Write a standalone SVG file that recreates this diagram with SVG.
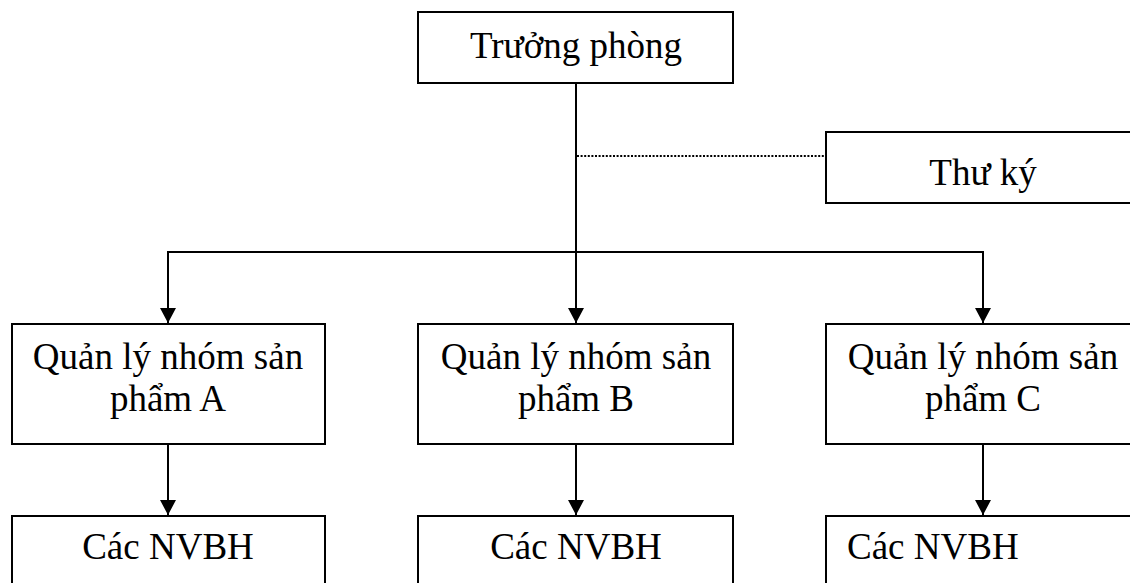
<svg xmlns="http://www.w3.org/2000/svg" width="1130" height="583" viewBox="0 0 1130 583">
  <style>
    .box { fill: #ffffff; stroke: #000000; stroke-width: 2; }
    .lbl { font-family: "Liberation Serif", "Times New Roman", serif; font-size: 37px; fill: #000000; text-anchor: middle; }
    .lbl.left { text-anchor: start; }
    .link { fill: none; stroke: #000000; stroke-width: 2; }
    .arrow { marker-end: url(#head); }
    .dotted { stroke-width: 2; stroke-dasharray: 2 1.6; }
  </style>
  <defs>
    <marker id="head" viewBox="0 0 15 16" refX="15" refY="8" markerWidth="15" markerHeight="16" markerUnits="userSpaceOnUse" orient="auto">
      <path d="M0,0 L15,8 L0,16 Z" fill="#000000"/>
    </marker>
  </defs>
  <rect width="1130" height="583" fill="#ffffff"/>

  <g id="connectors">
    <!-- manager down to group B, with branch bar -->
    <line class="link arrow" x1="576" y1="83" x2="576" y2="323"/>
    <polyline class="link" points="168,322 168,252 983,252 983,322"/>
    <line class="link arrow" x1="168" y1="252" x2="168" y2="323"/>
    <line class="link arrow" x1="983" y1="252" x2="983" y2="323"/>
    <!-- staff line to secretary -->
    <line class="link dotted" x1="577" y1="156" x2="826" y2="156"/>
    <!-- group leads down to staff -->
    <line class="link arrow" x1="168" y1="444" x2="168" y2="515"/>
    <line class="link arrow" x1="576" y1="444" x2="576" y2="515"/>
    <line class="link arrow" x1="983" y1="444" x2="983" y2="515"/>
  </g>

  <g id="truong-phong">
    <rect class="box" x="418" y="12" width="315" height="71"/>
    <text class="lbl" x="576" y="58">Trưởng phòng</text>
  </g>

  <g id="thu-ky">
    <rect class="box" x="826" y="132" width="315" height="71"/>
    <text class="lbl" x="983" y="185">Thư ký</text>
  </g>

  <g id="nhom-a">
    <rect class="box" x="12" y="324" width="313" height="120"/>
    <text class="lbl" x="168" y="369">Quản lý nhóm sản</text>
    <text class="lbl" x="168" y="411">phẩm A</text>
  </g>

  <g id="nhom-b">
    <rect class="box" x="418" y="324" width="315" height="120"/>
    <text class="lbl" x="576" y="369">Quản lý nhóm sản</text>
    <text class="lbl" x="576" y="411">phẩm B</text>
  </g>

  <g id="nhom-c">
    <rect class="box" x="826" y="324" width="315" height="120"/>
    <text class="lbl" x="983" y="369">Quản lý nhóm sản</text>
    <text class="lbl" x="983" y="411">phẩm C</text>
  </g>

  <g id="nvbh-a">
    <rect class="box" x="12" y="516" width="313" height="100"/>
    <text class="lbl" x="168" y="559">Các NVBH</text>
  </g>

  <g id="nvbh-b">
    <rect class="box" x="418" y="516" width="315" height="100"/>
    <text class="lbl" x="576" y="559">Các NVBH</text>
  </g>

  <g id="nvbh-c">
    <rect class="box" x="826" y="516" width="315" height="100"/>
    <text class="lbl left" x="847" y="559">Các NVBH</text>
  </g>
</svg>
